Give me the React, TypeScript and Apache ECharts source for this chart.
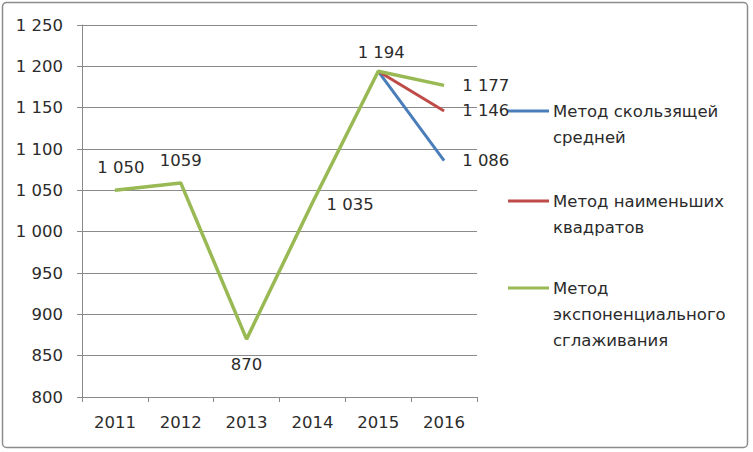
import React, { useEffect, useRef } from "react";
import * as echarts from "echarts";

const years = ["2011", "2012", "2013", "2014", "2015", "2016"];
const movingAverage = [null, null, null, null, 1194, 1086];
const leastSquares = [null, null, null, null, 1194, 1146];
const expSmoothing = [1050, 1059, 870, 1035, 1194, 1177];
const expLabels = ["1 050", "1059", "870", "1 035", "1 194", "1 177"];
const seriesNames = [
  "Метод скользящей\nсредней",
  "Метод наименьших\nквадратов",
  "Метод\nэкспоненциального\nсглаживания",
];
const colors = ["#4A7EBB", "#BE4B48", "#98B954"];

const FONT = "DejaVu Sans";
const FS = 16.5;
const TXT = "#2b2b2b";

function fmt(v: number): string {
  const s = String(v);
  return s.length > 3 ? s.slice(0, s.length - 3) + " " + s.slice(-3) : s;
}

export default function App() {
  const ref = useRef<HTMLDivElement>(null);
  useEffect(() => {
    if (!ref.current) return;
    const chart = echarts.init(ref.current, null, { renderer: "svg" });
    const labelBase = { show: true, fontFamily: FONT, fontSize: FS, color: TXT };
    const endLabel = (arr: (number | null)[]) =>
      arr.map((v, i) =>
        v == null
          ? null
          : i === arr.length - 1
          ? { value: v, label: { ...labelBase, position: "right", distance: 18, formatter: fmt(v) } }
          : { value: v, label: { show: false } }
      );
    const greenPos = ["top", "top", "bottom", "right", "top", "right"];
    const greenDist = [14, 14, 17, 14, 10, 18];
    const greenOff = [[6, 0], [0, 0], [0, 0], [0, 2], [3, 0], [0, 0]];
    const greenData = expSmoothing.map((v, i) => ({
      value: v,
      label: {
        ...labelBase,
        position: greenPos[i],
        distance: greenDist[i],
        offset: greenOff[i],
        formatter: expLabels[i],
      },
    }));
    const legendYs = [111, 201, 288];
    const legendGraphics: any[] = [];
    seriesNames.forEach((n, i) => {
      legendGraphics.push({
        type: "line",
        shape: { x1: 508, y1: legendYs[i], x2: 549, y2: legendYs[i] },
        style: { stroke: colors[i], lineWidth: 3 },
      });
      legendGraphics.push({
        type: "text",
        x: 553,
        y: legendYs[i] - 13,
        style: {
          text: n,
          fontFamily: FONT,
          fontSize: FS,
          lineHeight: 26,
          fill: TXT,
          verticalAlign: "top",
          align: "left",
        },
      });
    });
    const lineSeries = (name: string, data: any[], color: string, width: number) => ({
      name,
      type: "line",
      data,
      showSymbol: true,
      symbol: "circle",
      symbolSize: 0.1,
      lineStyle: { color, width },
      itemStyle: { color },
      emphasis: { disabled: true },
    });
    chart.setOption({
      animation: false,
      backgroundColor: "#ffffff",
      grid: { left: 82, right: 276, top: 25, bottom: 55 },
      xAxis: {
        type: "category",
        data: years,
        boundaryGap: true,
        axisLine: { lineStyle: { color: "#8a8a8a", width: 1 } },
        axisTick: { show: true, length: 5, lineStyle: { color: "#8a8a8a" } },
        axisLabel: { fontFamily: FONT, fontSize: FS, color: TXT, margin: 17 },
      },
      yAxis: {
        type: "value",
        min: 800,
        max: 1250,
        interval: 50,
        axisLine: { show: true, lineStyle: { color: "#8a8a8a", width: 1 } },
        axisTick: { show: true, length: 5, lineStyle: { color: "#8a8a8a" } },
        splitLine: { lineStyle: { color: "#8a8a8a", width: 1 } },
        axisLabel: {
          fontFamily: FONT,
          fontSize: FS,
          color: TXT,
          margin: 19,
          formatter: (v: number) => fmt(v),
        },
      },
      series: [
        lineSeries(seriesNames[0], endLabel(movingAverage), colors[0], 3),
        lineSeries(seriesNames[1], endLabel(leastSquares), colors[1], 3),
        lineSeries(seriesNames[2], greenData, colors[2], 3.5),
      ],
      graphic: [
        {
          type: "rect",
          shape: { x: 2.5, y: 2.5, width: 745, height: 445, r: 4 },
          style: { fill: "none", stroke: "#8c8c8c", lineWidth: 1.5 },
          z: -1,
        },
        ...legendGraphics,
      ],
    });
    return () => chart.dispose();
  }, []);
  return (
    <div
      ref={ref}
      style={{ position: "fixed", left: 0, top: 0, width: 753, height: 452 }}
    />
  );
}
